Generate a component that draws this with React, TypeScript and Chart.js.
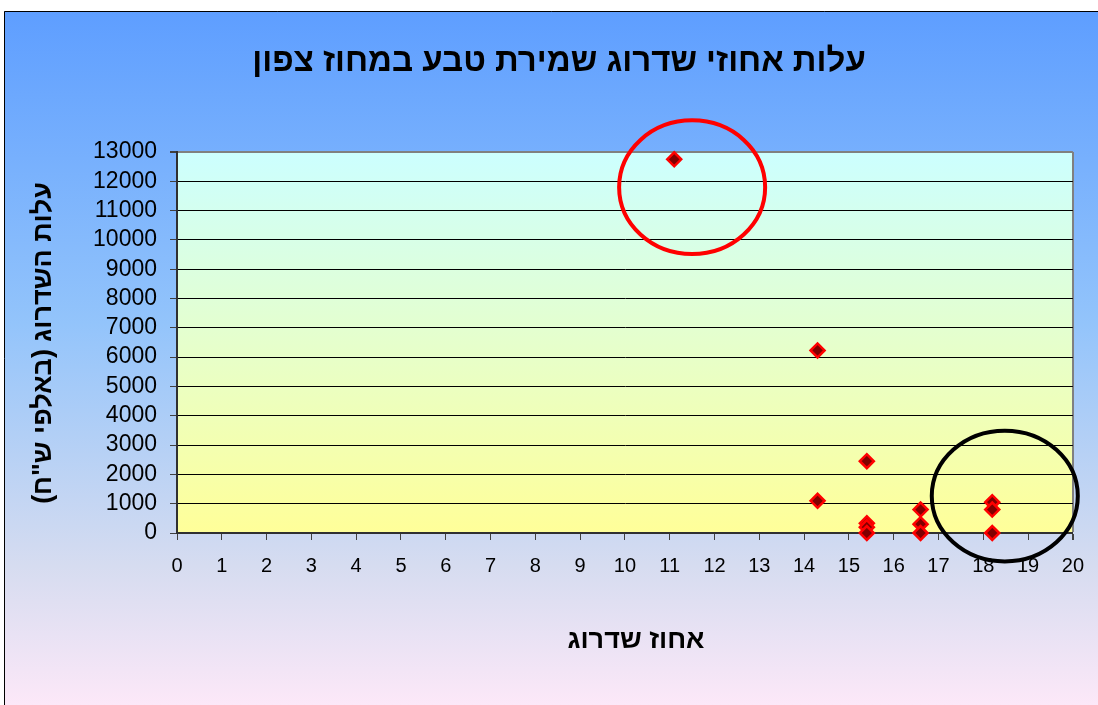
import React, { useEffect, useRef } from "react";
import { Chart, registerables } from "chart.js";

Chart.register(...registerables);

const chartTitle = "עלות אחוזי שדרוג שמירת טבע במחוז צפון";
const xAxisTitle = "אחוז שדרוג";
const yAxisTitle = 'עלות השדרוג (באלפי ש"ח)';

// upgrade percentage (x) and cost in thousands of NIS (y)
const upgradePercent = [11.1, 14.3, 14.3, 15.4, 15.4, 15.4, 15.4, 16.6, 16.6, 16.6, 18.2, 18.2, 18.2];
const upgradeCost = [12750, 6230, 1100, 2450, 330, 200, 0, 800, 300, 0, 1050, 800, 0];

const xMin = 0;
const xMax = 20;
const xStep = 1;
const yMin = 0;
const yMax = 13000;
const yStep = 1000;

// highlight ellipses (in data units)
const circleCenterX = [11.5, 18.48];
const circleCenterY = [11800, 1260];
const circleRadiusX = [1.63, 1.63];
const circleRadiusY = [2280, 2230];
const circleColors = ["#FF0000", "#000000"];

const FONT = "'Liberation Sans', Arial, sans-serif";

const decorPlugin = {
  id: "decor",
  beforeDraw(chart: any) {
    const { ctx, chartArea, width, height } = chart;
    ctx.save();
    ctx.fillStyle = "#ffffff";
    ctx.fillRect(0, 0, width, height);
    const g = ctx.createLinearGradient(0, 11, 0, height);
    g.addColorStop(0, "#5E9EFF");
    g.addColorStop(0.45, "#93C4FB");
    g.addColorStop(0.8, "#D6DCF0");
    g.addColorStop(1, "#FCE8F8");
    ctx.fillStyle = g;
    ctx.fillRect(4, 11, width - 4, height - 11);
    ctx.strokeStyle = "#000000";
    ctx.lineWidth = 1;
    ctx.beginPath();
    ctx.moveTo(4.5, height);
    ctx.lineTo(4.5, 11.5);
    ctx.lineTo(width, 11.5);
    ctx.stroke();

    const pg = ctx.createLinearGradient(0, chartArea.top, 0, chartArea.bottom);
    pg.addColorStop(0, "#CCFFFF");
    pg.addColorStop(1, "#FFFF99");
    ctx.fillStyle = pg;
    ctx.fillRect(chartArea.left, chartArea.top, chartArea.right - chartArea.left, chartArea.bottom - chartArea.top);

    ctx.fillStyle = "#000000";
    ctx.direction = "rtl";
    ctx.textAlign = "center";
    ctx.textBaseline = "middle";
    ctx.font = `bold 33px ${FONT}`;
    ctx.fillText(chartTitle, 559, 62);
    ctx.font = `bold 27px ${FONT}`;
    ctx.fillText(xAxisTitle, 636, 641);
    ctx.translate(44, 343);
    ctx.rotate(-Math.PI / 2);
    ctx.font = `bold 27px ${FONT}`;
    ctx.fillText(yAxisTitle, 0, 0);
    ctx.restore();
  },
  afterDatasetsDraw(chart: any) {
    const { ctx } = chart;
    const xs = chart.scales.x;
    const ys = chart.scales.y;
    ctx.save();
    ctx.lineWidth = 4;
    for (let i = 0; i < circleCenterX.length; i++) {
      const cx = xs.getPixelForValue(circleCenterX[i]);
      const cy = ys.getPixelForValue(circleCenterY[i]);
      const rx = Math.abs(xs.getPixelForValue(circleCenterX[i] + circleRadiusX[i]) - cx);
      const ry = Math.abs(ys.getPixelForValue(circleCenterY[i] + circleRadiusY[i]) - cy);
      ctx.strokeStyle = circleColors[i];
      ctx.beginPath();
      ctx.ellipse(cx, cy, rx, ry, 0, 0, Math.PI * 2);
      ctx.stroke();
    }
    ctx.restore();
  },
};

export default function App() {
  const ref = useRef<HTMLCanvasElement | null>(null);
  useEffect(() => {
    if (!ref.current) return;
    const data = upgradePercent.map((x, i) => ({ x, y: upgradeCost[i] }));
    const chart = new Chart(ref.current, {
      type: "scatter",
      data: {
        datasets: [
          {
            data,
            clip: false,
            pointStyle: "rectRot",
            pointRadius: 7,
            pointBackgroundColor: "#800000",
            pointBorderColor: "#FF0000",
            pointBorderWidth: 2.5,
          },
        ],
      },
      options: {
        animation: false,
        responsive: false,
        maintainAspectRatio: false,
        layout: { padding: { top: 152, left: 0, right: 25, bottom: 0 } },
        plugins: { legend: { display: false }, title: { display: false }, tooltip: { enabled: false } },
        scales: {
          x: {
            type: "linear",
            min: xMin,
            max: xMax,
            ticks: {
              stepSize: xStep,
              autoSkip: false,
              maxRotation: 0,
              color: "#000",
              font: { family: FONT, size: 20 },
              padding: 14,
              callback: (v: any) => String(v),
            },
            grid: {
              color: (c: any) => (c.tick && c.tick.value === xMax ? "#808080" : "rgba(0,0,0,0)"),
              lineWidth: (c: any) => (c.tick && c.tick.value === xMax ? 2 : 1),
              tickColor: "#404040",
              tickLength: 7,
            },
            border: { color: "#303030", width: 2 },
            afterFit: (s: any) => {
              s.height = 172;
            },
          },
          y: {
            type: "linear",
            min: yMin,
            max: yMax,
            ticks: {
              stepSize: yStep,
              autoSkip: false,
              color: "#000",
              font: { family: FONT, size: 23 },
              padding: 13,
              callback: (v: any) => String(v),
            },
            grid: {
              color: (c: any) => (c.tick && c.tick.value === yMax ? "#808080" : "#000000"),
              lineWidth: (c: any) => (c.tick && c.tick.value === yMax ? 2 : 1),
              tickColor: "#404040",
              tickLength: 7,
            },
            border: { color: "#303030", width: 2 },
            afterFit: (s: any) => {
              s.width = 177;
            },
          },
        },
      },
      plugins: [decorPlugin],
    });
    return () => chart.destroy();
  }, []);
  return (
    <div style={{ position: "absolute", left: 0, top: 0, width: 1098, height: 705 }}>
      <canvas ref={ref} width={1098} height={705} style={{ display: "block" }} />
    </div>
  );
}
